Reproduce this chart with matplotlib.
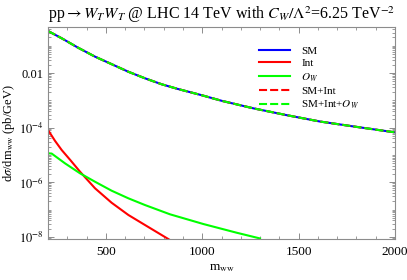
import numpy as np
import matplotlib
matplotlib.use("Agg")
import matplotlib.pyplot as plt
from matplotlib.ticker import FixedLocator, NullFormatter

plt.rcParams['font.family'] = ['Liberation Serif', 'DejaVu Serif']
plt.rcParams['mathtext.fontset'] = 'stix'
plt.rcParams['lines.scale_dashes'] = False

# SM distribution
sm_x = [200, 271, 356, 444, 532, 617, 703, 790, 874, 997, 1103, 1265, 1440,
        1611, 1782, 2000]
sm_y = [0.346, 0.187, 0.0845, 0.0397, 0.0208, 0.0111, 6.4e-3, 3.86e-3, 2.6e-3,
        1.54e-3, 9.5e-4, 5.09e-4, 2.84e-4, 1.67e-4, 1.11e-4, 6.7e-5]

# interference term
int_x = [200, 236, 271, 318, 366, 444, 530, 617, 703, 833]
int_y = [8.2e-5, 3.3e-5, 1.51e-5, 6.2e-6, 2.43e-6, 5.98e-7, 1.77e-7, 6.3e-8,
         2.71e-8, 7.6e-9]

# O_W squared term
ow_x = [200, 219, 288, 366, 444, 530, 617, 703, 833, 1006, 1179, 1300]
ow_y = [1.15e-5, 1.12e-5, 4.92e-6, 2.12e-6, 1.04e-6, 4.89e-7, 2.57e-7,
        1.46e-7, 6.67e-8, 2.94e-8, 1.41e-8, 8.7e-9]

# sums lie on top of SM within the line width
sm_int_x, sm_int_y = sm_x, sm_y
sm_int_ow_x, sm_int_ow_y = sm_x, sm_y

y_major = [1e-8, 1e-6, 1e-4, 1e-2]
y_major_labels = ['$10^{-8}$', '$10^{-6}$', '$10^{-4}$', '0.01']

fig = plt.figure(figsize=(4.07, 2.80), dpi=100)
ax = fig.add_axes([48/407, 1 - 239/280, 347/407, 212/280])

lw = 1.5
dash = (5.8, 2.2)
ax.plot(sm_x, sm_y, color=(0, 0, 1), lw=lw, label='SM')
ax.plot(int_x, int_y, color=(1, 0, 0), lw=lw, label='Int')
ax.plot(ow_x, ow_y, color=(0, 1, 0), lw=lw, label='$O_W$')
ax.plot(sm_int_x, sm_int_y, color=(1, 0, 0), lw=lw, dashes=dash, label='SM+Int')
ax.plot(sm_int_ow_x, sm_int_ow_y, color=(0, 1, 0), lw=lw, dashes=dash,
        label='SM+Int+$O_W$')

ax.set_yscale('log')
ax.set_xlim(200, 2000)
ax.set_ylim(10**-8.08, 10**-0.315)

ax.xaxis.set_major_locator(FixedLocator([500, 1000, 1500, 2000]))
ax.xaxis.set_minor_locator(FixedLocator(np.arange(200, 2001, 100)))
ax.yaxis.set_major_locator(FixedLocator(y_major))
ax.set_yticklabels(y_major_labels)
minors = [k * 10.0**n for n in range(-9, 1) for k in range(1, 10)
          if not (k == 1 and n in (-8, -6, -4, -2))]
ax.yaxis.set_minor_locator(FixedLocator(minors))
ax.yaxis.set_minor_formatter(NullFormatter())

frame_col = '#8c8c8c'
for s in ax.spines.values():
    s.set_color(frame_col)
    s.set_linewidth(0.8)
ax.tick_params(which='both', direction='in', top=True, right=True,
               color=frame_col, labelsize=9.5)
ax.tick_params(axis='y', labelsize=9)
ax.tick_params(which='major', length=4, width=0.7)
ax.tick_params(which='minor', length=2, width=0.6)
ax.tick_params(axis='x', pad=5)
ax.tick_params(axis='y', pad=3)

ax.set_xlabel('m$_{\\rm ww}$', fontsize=9.5, labelpad=3)
ax.set_ylabel('d$\\sigma$/dm$_{\\rm ww}$ (pb/GeV)', fontsize=9)
ax.yaxis.set_label_coords(-0.088, 0.5)
ax.set_title('pp$\\rightarrow W_T W_T$ @ LHC 14 TeV with $C_W/\\Lambda^2$=6.25 TeV$^{-2}$',
             fontsize=11.5, pad=6)

ax.legend(loc='upper left', bbox_to_anchor=(259/407, 1 - 46/280),
          bbox_transform=fig.transFigure, frameon=False, fontsize=8,
          handlelength=2.8, handletextpad=1.0, labelspacing=0.25,
          borderpad=0, borderaxespad=0)

fig.savefig('out.png', dpi=100)
